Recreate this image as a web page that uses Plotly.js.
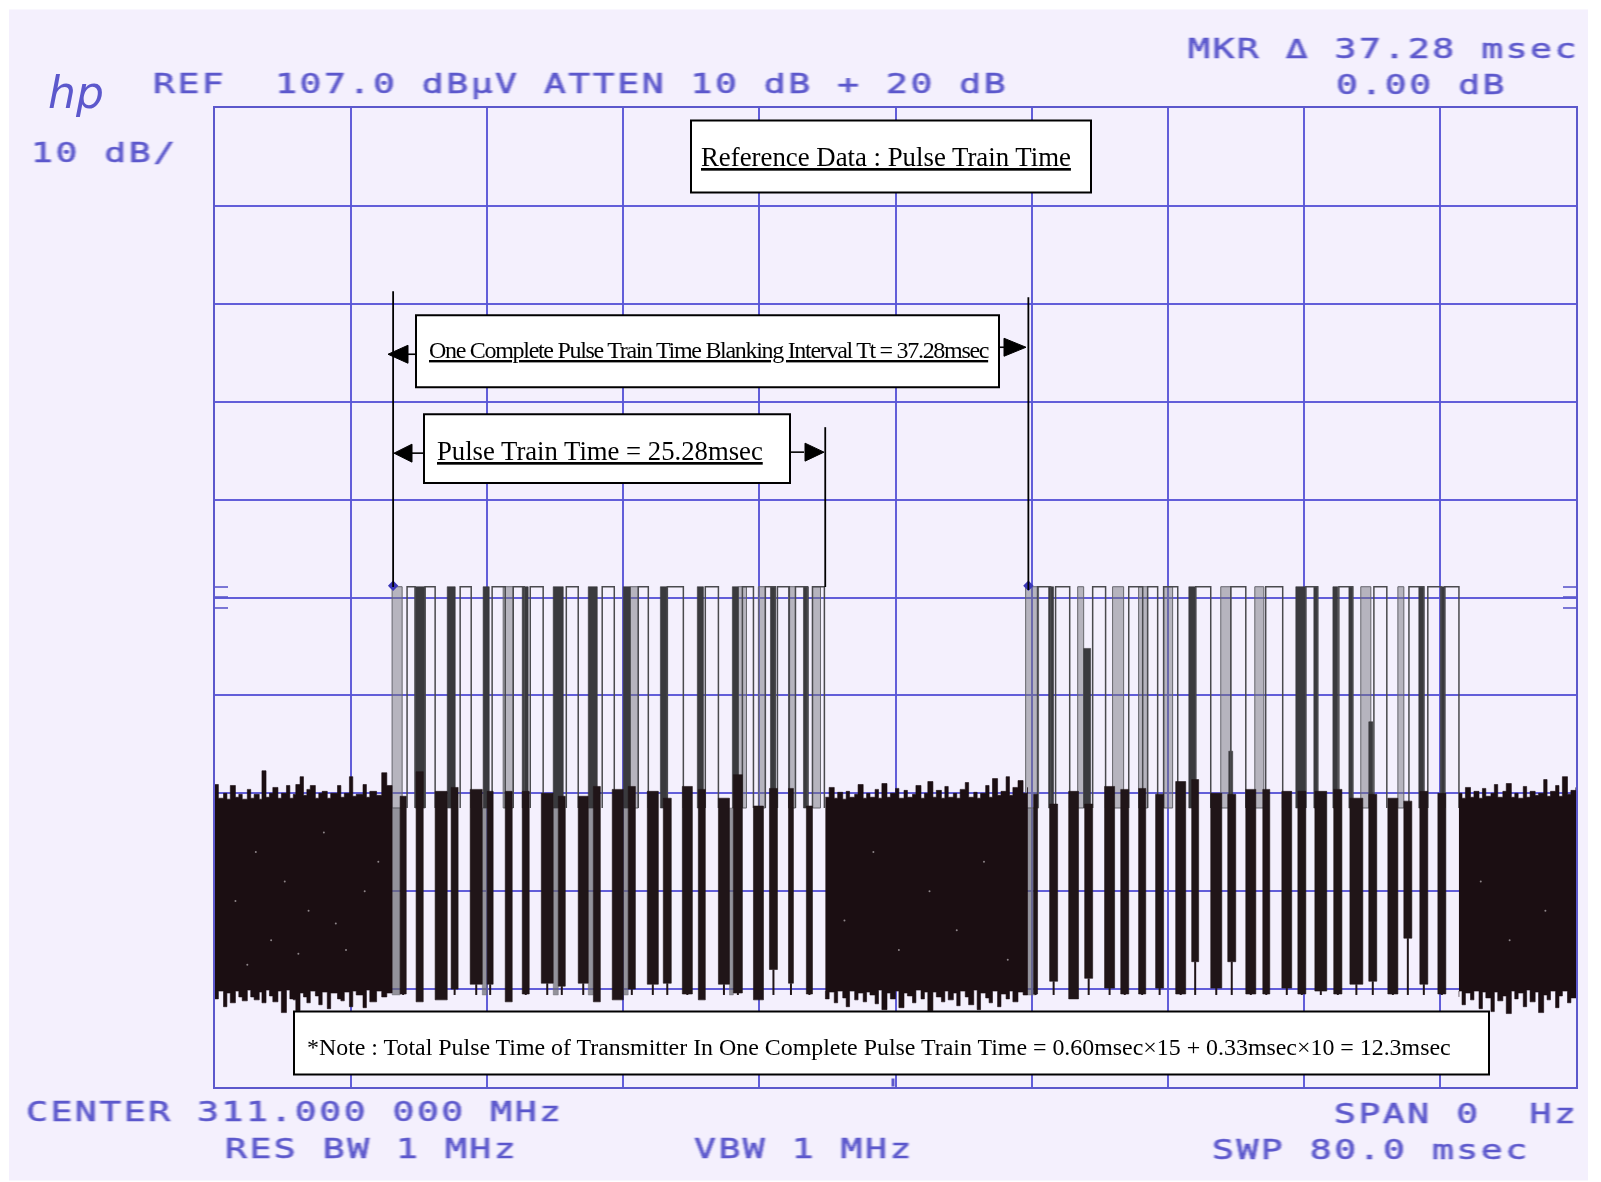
<!DOCTYPE html>
<html><head><meta charset="utf-8">
<script src="https://cdn.plot.ly/plotly-3.0.1.min.js"></script>
<style>
html,body{margin:0;padding:0;background:#fff}
.annotation-text[style*="Mono"]{letter-spacing:1.85px;filter:blur(.7px);white-space:pre;stroke:#5c58cc;stroke-width:.55px;transform-box:fill-box;transform-origin:0 50%;transform:scale(1.35,1)}
.annotation-text[data-unformatted^="<u>One"]{letter-spacing:-1.3px}
.cartesianlayer{filter:blur(.65px)}
</style></head><body>
<div id="chart" style="width:1601px;height:1182px"></div>
<script>
// ---- values: x in msec, y in dBuV ----
const noise1X =[0,.2,.5,.7,.9,1.2,1.4,1.6,1.9,2.1, 2.3,2.6,2.76,3,3.2,3.4,3.7,3.9,4.2,4.4, 4.6,4.75,5,5.2,5.4,5.6,5.9,6.1,6.3,6.6, 6.8,7.2,7.4,7.6,7.9,8.1,8.3,8.7,8.9,9.1, 9.5,9.8,10.1,10.41];
const noise1Top=[37.9,36.5,37,36.4,37.8,36.6,36.9,36.4,37.4,36.5, 36.9,36.4,39.3,36.6,37,37.6,36.5,37,37.8,36.5, 36.9,37.9,38.7,36.8,37.4,37.8,36.5,37,37.2,36.5, 37,37.8,36.6,37,38.7,36.7,36.9,37.9,36.6,37.2, 36.8,39.1,37.8,37];
const noise1Bot=[16.6,16,16.8,15.2,16.6,15.6,16.8,16.2,15.8,16.9, 16.2,15.9,16.7,15.6,16.9,16.3,15.7,16.8,14.6,16.9, 16,15.9,14.8,16.6,16.2,15.6,16.8,16.3,15.4,16.7, 15,16.6,16,15.8,16.7,15.2,16.8,16.4,15.1,16.9, 15.7,16.8,16.2,16.6];
const noise2X =[35.88,36.1,36.4,36.6,36.9,37.1,37.3,37.6,37.8,38.1, 38.3,38.5,38.8,39,39.2,39.5,39.7,40,40.2,40.5, 40.7,41,41.2,41.5,41.7,41.9,42.2,42.4,42.7,42.9, 43.1,43.4,43.6,43.8,44.1,44.3,44.6,44.8,45,45.3, 45.5,45.7,46,46.2,46.5,46.7,46.9,47.2,47.5,47.76];
const noise2Top=[36.6,37.6,36.5,37.1,36.4,37.2,36.6,36.9,37.9,36.5, 37,36.6,37.4,36.5,38,36.6,37,37.5,36.5,37.3, 36.6,36.9,37.8,36.5,37,38.2,36.6,37.3,36.5,37.7, 36.6,37,36.5,37.4,38.1,36.6,37.1,36.5,37,37.8, 36.6,38.5,36.8,37.2,38.7,36.8,37.6,38.3,37,37.6];
const noise2Bot=[16.8,16,16.7,15.6,16.8,16.1,15.2,16.8,15.9,16.6, 15.7,16.7,16.4,15.5,16.9,14.9,16.6,16,16.8,15.1, 16.6,16.3,15.6,16.9,16,16.7,14.8,16.7,16.2,15.7, 16.8,15.9,16.6,15.3,16.8,16.2,15.4,16.9,14.9,16.6, 16.1,15.6,16.8,15.2,16.5,16,16.8,15.7,16.7,16.4];
const noise3X =[73.12,73.3,73.5,73.8,74,74.3,74.5,74.7,75,75.2, 75.4,75.7,75.9,76.2,76.4,76.6,76.9,77.1,77.3,77.6, 77.8,78.1,78.3,78.5,78.8,79,79.2,79.5,79.7,80];
const noise3Top=[37,36.5,37.6,36.6,37.2,36.5,37.5,36.7,37,37.9, 36.6,37.2,38,36.6,37,36.5,37.7,36.6,37.2,36.8, 37,38.4,36.7,37.2,37.8,36.7,38.7,36.9,37.3,37.6];
const noise3Bot=[16.2,16.8,15.4,16.6,15.9,16.8,15,16.7,16.1,14.7, 16.7,15.8,16.3,14.5,16.8,16,16.6,15.2,16.9,15.7, 16.7,14.6,16.4,15.9,16.8,15.1,16.3,16.8,15.6,16.1];
const specksX=[1.2,2.4,3.3,4.1,5.5,6.4,7.7,8.8,9.6,1.9,4.9,7.1,37,38.7,40.2,42,43.6,45.2,46.6,74.4,76.1,78.2];
const specksY=[26,31,22,28,25,33,21,27,30,19.5,20.6,23.7,24,31,21,27,23,30,20,28,22,25];

const bars1Start=[10.88,11.82,12.94,13.88,15,16,17.06,18.06,19.18,20.18,21.35,22.24,23.35,24.29,25.41,26.35,27.47,28.41,29.59,30.47,31.65,32.59,33.71,34.76];
const bars1End  =[11.24,12.24,13.65,14.29,15.71,16.35,17.47,18.47,19.88,20.59,21.94,22.65,24,24.71,26.06,26.82,28.06,28.82,30.24,31,32.24,33.06,34,35.12];
const bars1Top  =[36.7,39.2,37.2,37.6,37.4,37.2,37.2,37.2,37,36.7,36.7,37.7,37.4,37.7,37.2,36.5,37.7,37.4,36.5,38.9,35.7,37.5,37.5,35.7];
const bars1Bot  =[16.5,15.7,15.9,17,17.5,17.5,15.7,16.5,17.6,17.3,17.6,15.7,15.9,17,17.5,17.6,16.5,15.9,17.5,16.6,15.9,19,17.6,16.5];
const bars2Start=[48.12,49.06,50.18,51.12,52.29,53.24,54.29,55.29,56.47,57.41,58.53,59.53,60.59,61.59,62.71,63.65,64.65,65.76,66.71,67.82,68.94,69.88,70.82,71.88];
const bars2End  =[48.35,49.53,50.76,51.59,52.88,53.71,54.71,55.76,57.06,57.82,59.18,60,61.18,62,63.29,64.12,65.35,66.24,67.47,68.29,69.53,70.35,71.29,72.35];
const bars2Top  =[36.9,35.9,37.2,35.9,37.7,37.4,37.5,36.9,38.2,38.4,37,36.9,37.4,37.4,37.2,37.2,37.2,37.4,36.5,36.9,36.5,36.2,37.2,37];
const bars2Bot  =[16.5,17.8,16,18.1,17.1,16.5,16.5,17.1,16.5,19.8,17.1,19.8,16.5,16.5,17.1,16.5,16.8,16.5,17.5,17.8,16.5,22.2,17.5,16.5];

const lowGreyStart=[10.41,15.71,19.88,21.94,24,30.24,47.76];
const lowGreyEnd  =[10.88,16,20.18,22.24,24.29,30.47,48.24];

const pulseLevel=58.1, bandLevel=35.5, lowEnd=16.4;
const highDarkStart=[11.76,13.65,15.76,18.06,19.88,21.94,24,26.18,28.35,30.41,32.65,34.59,49,57.24,63.53,64.59,65.71,66.65,70.76,72.06];
const highDarkEnd  =[12.35,14.12,16.12,18.41,20.47,22.47,24.41,26.59,28.71,30.76,32.94,34.88,49.29,57.65,64.12,64.82,66,66.88,71.06,72.29];
const partialStart=[51.06,59.59,67.82];
const partialEnd  =[51.47,59.82,68.06];
const partialTop  =[51.8,41.3,44.3];
const highGreyStart=[10.41,16.94,24.41,30.76,31.94,33.71,35.12,47.65,50.71,52.76,54.29,55.76,59.12,61.12,67.35,69.53];
const highGreyEnd  =[11,17.53,24.88,31.24,32.35,34.12,35.59,48.41,51.06,53.41,54.82,56.29,59.71,61.65,67.94,69.88];
const capStart=[11.29,12.35,14.41,16.29,17.53,18.53,20.65,22.76,24.88,26.59,28.82,31,32.35,33.06,34.12,35.12,48.35,49.41,51.59,53.71,54.82,55.76,57.65,59.71,61.76,64.12,66.06,68.12,70.18,71.29,72.29];
const capEnd  =[11.76,12.94,15.06,17.06,18.18,19.29,21.35,23.47,25.47,27.53,29.59,31.65,32.94,33.76,34.82,35.82,49.12,50.24,52.35,54.53,55.41,56.59,58.53,60.59,62.76,64.82,66.88,68.88,71.06,72.06,73.12];
const markerX=[10.47,47.81];
const markerY=[58.2,58.2];
const cursorX=[10.47,35.87,47.81];

// ---- page furniture ----
const L=215,T=107.5,W=1361,H=980;
const X=p=>(p-L)/W, Y=p=>1-(p-T)/H;
const BLUE='#5c58cc', INK='#000';

function rects(s,e,t,b){const x=[],y=[];s.forEach((a,i)=>{const tp=Array.isArray(t)?t[i]:t,bt=Array.isArray(b)?b[i]:b;
  x.push(a,e[i],e[i],a,a,null);y.push(tp,tp,bt,bt,tp,null);});return {x,y};}
function noise(xs,top,bot){const xr=xs.slice().reverse();return {x:xs.concat(xr),y:top.concat(bot.slice().reverse())};}
function caps(s,e){const x=[],y=[];s.forEach((a,i)=>{x.push(a,a,e[i],e[i],null);y.push(bandLevel,pulseLevel,pulseLevel,bandLevel,null);});return {x,y};}
function tails(s,e,b){const x=[],y=[];s.forEach((a,i)=>{const m=(a+e[i])/2;x.push(m,m,null);y.push(b[i],Math.min(b[i],lowEnd),null);});return {x,y};}

const fillTrace=(d,c,name,lc,lw,shape)=>({type:'scatter',mode:'lines',x:d.x,y:d.y,fill:'toself',fillcolor:c,line:{color:lc||c,width:lw||.6,shape:shape||'linear'},hoverinfo:'skip',showlegend:false,name});
const hd=rects(highDarkStart,highDarkEnd,pulseLevel,bandLevel);
const hg=rects(highGreyStart,highGreyEnd,pulseLevel,bandLevel);
const pd=rects(partialStart,partialEnd,partialTop,bandLevel);
const lg=rects(lowGreyStart,lowGreyEnd,bandLevel,lowEnd);
const b1=rects(bars1Start,bars1End,bars1Top,bars1Bot);
const b2=rects(bars2Start,bars2End,bars2Top,bars2Bot);
const t1=tails(bars1Start,bars1End,bars1Bot), t2=tails(bars2Start,bars2End,bars2Bot);
const cp=caps(capStart,capEnd);
const NOISE='#1b0e12';
const traces=[
  fillTrace(hg,'rgba(120,120,128,.5)','pulse fill','#66666c',1),
  fillTrace(lg,'rgba(105,105,112,.7)','pulse fill low'),
  fillTrace(hd,'#3a3a3e','pulse dark'),
  fillTrace(pd,'#3a3a3e','pulse partial'),
  {type:'scatter',mode:'lines',x:cp.x,y:cp.y,line:{color:'#4a4a4e',width:1.5},hoverinfo:'skip',showlegend:false,name:'pulse tops'},
  fillTrace(b1,'#201518','train 1 off'),
  fillTrace(b2,'#201518','train 2 off'),
  {type:'scatter',mode:'lines',x:t1.x.concat(t2.x),y:t1.y.concat(t2.y),line:{color:'#201518',width:2},hoverinfo:'skip',showlegend:false,name:'tails'},
  fillTrace(noise(noise1X,noise1Top,noise1Bot),NOISE,'noise 1',NOISE,.6,'hv'),
  fillTrace(noise(noise2X,noise2Top,noise2Bot),NOISE,'noise 2',NOISE,.6,'hv'),
  fillTrace(noise(noise3X,noise3Top,noise3Bot),NOISE,'noise 3',NOISE,.6,'hv'),
  {type:'scatter',mode:'markers',x:specksX,y:specksY,marker:{color:'#8d8488',size:2},hoverinfo:'skip',showlegend:false,name:'speckle'},
  {type:'scatter',mode:'markers',x:markerX,y:markerY,marker:{color:'#3b37b8',size:8,symbol:'diamond'},hoverinfo:'skip',showlegend:false,name:'markers'}
];

function box(x0,y0,x1,y1){return {type:'rect',xref:'paper',yref:'paper',x0:X(x0),x1:X(x1),y0:Y(y0),y1:Y(y1),fillcolor:'#fff',line:{color:INK,width:2},layer:'above'};}
function ln(x0,y0,x1,y1,c,w){return {type:'line',xref:'paper',yref:'paper',x0:X(x0),x1:X(x1),y0:Y(y0),y1:Y(y1),line:{color:c||INK,width:w||1.6},layer:'above'};}
function tri(xt,xb,y,h){const p=(a,b)=>`${X(a)} ${Y(b)}`;return {type:'path',xref:'paper',yref:'paper',path:`M ${p(xt,y)} L ${p(xb,y-h)} L ${p(xb,y+h)} Z`,fillcolor:INK,line:{color:INK,width:1},layer:'above'};}
function vline(ms,y0,y1){return {type:'line',xref:'x',yref:'paper',x0:ms,x1:ms,y0:Y(y0),y1:Y(y1),line:{color:INK,width:1.8},layer:'above'};}

const shapes=[
  {type:'rect',xref:'paper',yref:'paper',x0:X(9),x1:X(1588),y0:Y(9),y1:Y(1181),fillcolor:'#f4f0fd',line:{width:0},layer:'below'},
  ln(215,587,228,587,BLUE,1.6),ln(215,597,228,597,BLUE,1.6),ln(215,608,228,608,BLUE,1.6),
  ln(1563,587,1576,587,BLUE,1.6),ln(1563,597,1576,597,BLUE,1.6),ln(1563,608,1576,608,BLUE,1.6),
  ln(893,1079,893,1087,BLUE,3),
  vline(cursorX[0],291,587),vline(cursorX[1],427,587),vline(cursorX[2],297,590),
  box(691,120,1091,192),box(416,315,999,387),box(424,414,790,483),box(294,1012,1489,1075),
  ln(408,354,416,354),tri(388,408,354,9),
  ln(999,347,1004,347),tri(1026,1004,347,9),
  ln(412,453,424,453),tri(394,412,453,9),
  ln(790,452,804,452),tri(824,805,452,9)
];

function mono(t,x,y){return {text:t,xref:'paper',yref:'paper',x:X(x),y:Y(y),xanchor:'left',yanchor:'middle',align:'left',showarrow:false,
  font:{family:'DejaVu Sans Mono',size:27,color:BLUE}};}
function serif(t,x,y,s){return {text:t,xref:'paper',yref:'paper',x:X(x),y:Y(y),xanchor:'left',yanchor:'middle',align:'left',showarrow:false,
  font:{family:'Liberation Serif',size:s,color:INK}};}
const annotations=[
  mono('REF\u00a0\u00a0107.0 dBµV ATTEN 10 dB + 20 dB',151,83),
  mono('10 dB/',29,153),
  mono('MKR Δ 37.28 msec',1186,48),
  mono('0.00 dB',1334,84),
  mono('CENTER 311.000 000 MHz',24,1113),
  mono('SPAN 0\u00a0\u00a0Hz',1332,1115),
  mono('RES BW 1 MHz',223,1150),
  mono('VBW 1 MHz',692,1150),
  mono('SWP 80.0 msec',1210,1151),
  {text:'hp',xref:'paper',yref:'paper',x:X(46),y:Y(92),xanchor:'left',yanchor:'middle',showarrow:false,font:{family:'DejaVu Sans',size:44,color:BLUE,style:'italic'}},
  serif('<u>Reference Data : Pulse Train Time</u>',699,157,26.8),
  serif('<u>One Complete Pulse Train Time Blanking Interval Tt = 37.28msec</u>',427,350,24),
  serif('<u>Pulse Train Time = 25.28msec</u>',435,451,26.7),
  serif('*Note : Total Pulse Time of Transmitter In One Complete Pulse Train Time = 0.60msec×15 + 0.33msec×10 = 12.3msec',305,1047,23.9)
];

const axisCommon={showticklabels:false,ticks:'',zeroline:false,showline:true,mirror:true,linecolor:BLUE,linewidth:2,showgrid:true,gridcolor:'rgba(90,85,215,.95)',gridwidth:2,fixedrange:true};
Plotly.newPlot('chart',traces,{
  width:1601,height:1182,autosize:false,
  margin:{l:L,r:1601-L-W,t:T,b:1182-T-H,pad:0},
  paper_bgcolor:'#fff',plot_bgcolor:'rgba(0,0,0,0)',showlegend:false,
  xaxis:Object.assign({range:[0,80],tick0:0,dtick:8},axisCommon),
  yaxis:Object.assign({range:[7,107],tick0:7,dtick:10},axisCommon),
  shapes,annotations
},{displayModeBar:false,staticPlot:true});
</script>
</body></html>
